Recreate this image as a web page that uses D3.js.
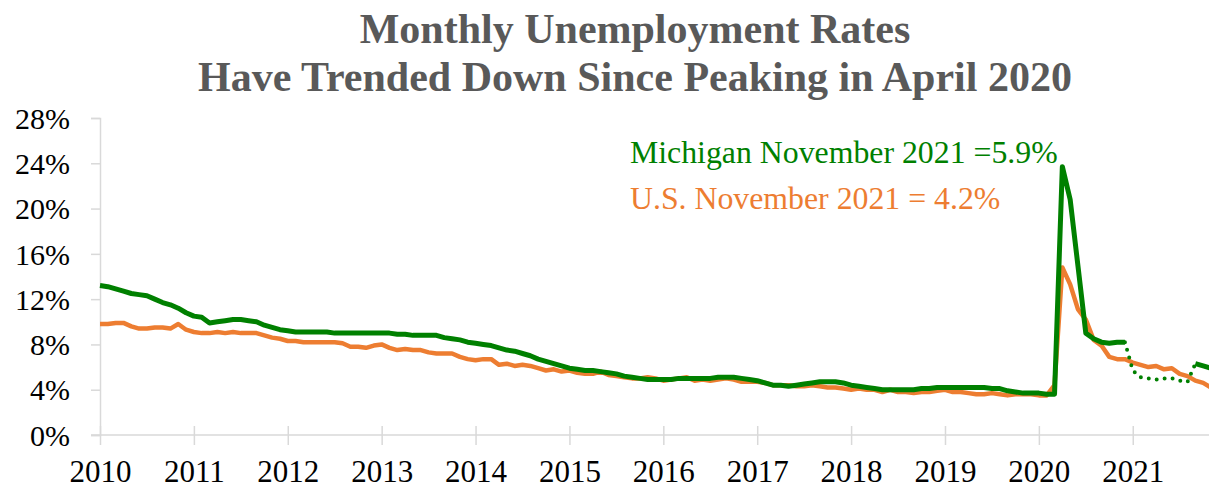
<!DOCTYPE html>
<html>
<head>
<meta charset="utf-8">
<script src="https://cdn.jsdelivr.net/npm/d3@7"></script>
<style>
  body { margin: 0; background: #fff; }
  svg { display: block; }
</style>
</head>
<body>
<div id="chart"></div>
<script>
// Monthly unemployment rate (%), Jan 2010 .. Nov 2021
const years = [2010, 2011, 2012, 2013, 2014, 2015, 2016, 2017, 2018, 2019, 2020, 2021]

const usRate = [
  9.8, 9.8, 9.9, 9.9, 9.6, 9.4, 9.4, 9.5, 9.5, 9.4, 9.8, 9.3,
  9.1, 9.0, 9.0, 9.1, 9.0, 9.1, 9.0, 9.0, 9.0, 8.8, 8.6, 8.5,
  8.3, 8.3, 8.2, 8.2, 8.2, 8.2, 8.2, 8.1, 7.8, 7.8, 7.7, 7.9,
  8.0, 7.7, 7.5, 7.6, 7.5, 7.5, 7.3, 7.2, 7.2, 7.2, 6.9, 6.7,
  6.6, 6.7, 6.7, 6.2, 6.3, 6.1, 6.2, 6.1, 5.9, 5.7, 5.8, 5.6,
  5.7, 5.5, 5.4, 5.4, 5.6, 5.3, 5.2, 5.1, 5.0, 5.0, 5.1, 5.0,
  4.8, 4.9, 5.0, 5.1, 4.8, 4.9, 4.8, 4.9, 5.0, 4.9, 4.7, 4.7,
  4.7, 4.6, 4.4, 4.4, 4.4, 4.3, 4.3, 4.4, 4.3, 4.2, 4.2, 4.1,
  4.0, 4.1, 4.0, 4.0, 3.8, 4.0, 3.8, 3.8, 3.7, 3.8, 3.8, 3.9,
  4.0, 3.8, 3.8, 3.7, 3.6, 3.6, 3.7, 3.6, 3.5, 3.6, 3.6, 3.6,
  3.5, 3.5, 4.4, 14.8, 13.3, 11.1, 10.2, 8.4, 7.9, 6.9, 6.7, 6.7,
  6.4, 6.2, 6.0, 6.1, 5.8, 5.9, 5.4, 5.2, 4.8, 4.6, 4.2
]

const miRate = [
  13.2, 13.1, 12.9, 12.7, 12.5, 12.4, 12.3, 12.0, 11.7, 11.5, 11.2, 10.8,
  10.5, 10.4, 9.9, 10.0, 10.1, 10.2, 10.2, 10.1, 10.0, 9.7, 9.5, 9.3,
  9.2, 9.1, 9.1, 9.1, 9.1, 9.1, 9.0, 9.0, 9.0, 9.0, 9.0, 9.0,
  9.0, 9.0, 8.9, 8.9, 8.8, 8.8, 8.8, 8.8, 8.6, 8.5, 8.4, 8.2,
  8.1, 8.0, 7.9, 7.7, 7.5, 7.4, 7.2, 7.0, 6.7, 6.5, 6.3, 6.1,
  5.9, 5.8, 5.7, 5.7, 5.6, 5.5, 5.4, 5.2, 5.1, 5.0, 4.9, 4.9,
  4.9, 4.9, 5.0, 5.0, 5.0, 5.0, 5.0, 5.1, 5.1, 5.1, 5.0, 4.9,
  4.8, 4.6, 4.4, 4.4, 4.3, 4.4, 4.5, 4.6, 4.7, 4.7, 4.7, 4.6,
  4.4, 4.3, 4.2, 4.1, 4.0, 4.0, 4.0, 4.0, 4.0, 4.1, 4.1, 4.2,
  4.2, 4.2, 4.2, 4.2, 4.2, 4.2, 4.1, 4.1, 3.9, 3.8, 3.7, 3.7,
  3.7, 3.6, 3.6, 23.7, 20.8, 14.9, 9.0, 8.5, 8.2, 8.1, 8.2, 8.2,
  5.7, 5.1, 5.0, 4.9, 5.0, 5.0, 4.8, 4.7, 6.3, 6.1, 5.9
]

const yTicks = [0, 4, 8, 12, 16, 20, 24, 28]

const titleLines = [
  "Monthly Unemployment Rates",
  "Have Trended Down Since Peaking in April 2020"
]
const miLabel = "Michigan November 2021 =5.9%"
const usLabel = "U.S. November 2021 = 4.2%"

// months of the Michigan series drawn dotted (Dec 2020 .. Sep 2021)
const miDotFrom = 131
const miDotTo = 140

function drawChart() {
  const width = 1209
  const height = 489
  const serif = "'Liberation Serif', 'Times New Roman', serif"
  const green = "#008000"
  const orange = "#ED7D31"
  const axisColor = "#d9d9d9"

  const svg = d3.select("#chart")
    .append("svg")
      .attr("width", width)
      .attr("height", height)

  // Scales
  const xScale = d3.scaleLinear()
    .domain([0, usRate.length - 1])
    .range([100, 1211])

  const yScale = d3.scaleLinear()
    .domain([0, 28])
    .range([435, 118])

  // Title
  svg.append("text")
    .attr("x", 635)
    .attr("text-anchor", "middle")
    .attr("fill", "#595959")
    .style("font-family", serif)
    .style("font-weight", "bold")
    .style("font-size", "42px")
    .selectAll("tspan")
    .data(titleLines)
    .enter()
    .append("tspan")
      .attr("x", 635)
      .attr("y", (d, i) => 43 + i * 48)
      .text(d => d)

  // Y axis
  const yAxis = svg.append("g")
    .attr("transform", "translate(100,0)")
    .call(d3.axisLeft(yScale)
      .tickValues(yTicks)
      .tickSize(9)
      .tickPadding(30)
      .tickFormat(d => d + "%"))
  yAxis.select(".domain").attr("stroke", axisColor).attr("stroke-width", 1.5)
  yAxis.selectAll(".tick line").attr("stroke", axisColor).attr("stroke-width", 1.5)
  yAxis.selectAll(".tick text")
    .attr("x", -30)
    .attr("dy", "0.34em")
    .attr("fill", "#000")
    .style("font-family", serif)
    .style("font-size", "30px")

  // X axis
  const xAxis = svg.append("g")
    .attr("transform", "translate(0,435)")
    .call(d3.axisBottom(xScale)
      .tickValues(years.map((y, i) => i * 12))
      .tickSize(10)
      .tickSizeOuter(0)
      .tickFormat((d, i) => years[i]))
  xAxis.select(".domain")
    .attr("d", `M91,0H${width}`)
    .attr("stroke", axisColor)
    .attr("stroke-width", 1.5)
  xAxis.selectAll(".tick line")
    .attr("y1", -9)
    .attr("y2", 10)
    .attr("stroke", axisColor)
    .attr("stroke-width", 1.5)
  xAxis.selectAll(".tick text")
    .attr("y", 47)
    .attr("dy", 0)
    .attr("fill", "#000")
    .style("font-family", serif)
    .style("font-size", "31px")

  // Lines
  const line = d3.line()
    .x(d => xScale(d.i))
    .y(d => yScale(d.v))

  const usPoints = usRate.map((v, i) => ({ i, v }))
  const miPoints = miRate.map((v, i) => ({ i, v }))

  svg.append("path")
    .datum(usPoints)
    .attr("d", line)
    .attr("fill", "none")
    .attr("stroke", orange)
    .attr("stroke-width", 4.5)
    .attr("stroke-linejoin", "round")

  const miSegments = [
    { pts: miPoints.filter(d => d.i <= miDotFrom), dotted: false },
    { pts: miPoints.filter(d => d.i >= miDotFrom && d.i <= miDotTo), dotted: true },
    { pts: miPoints.filter(d => d.i >= miDotTo), dotted: false },
  ]

  svg.selectAll(".mi")
    .data(miSegments)
    .enter()
    .append("path")
      .attr("class", "mi")
      .attr("d", d => line(d.pts))
      .attr("fill", "none")
      .attr("stroke", green)
      .attr("stroke-width", d => d.dotted ? 4 : 5)
      .attr("stroke-linejoin", "round")
      .attr("stroke-linecap", d => d.dotted ? "round" : "butt")
      .attr("stroke-dasharray", d => d.dotted ? "0 8" : null)

  // Annotations
  svg.append("text")
    .attr("x", 630)
    .attr("y", 163)
    .attr("fill", green)
    .style("font-family", serif)
    .style("font-size", "31.8px")
    .text(miLabel)

  svg.append("text")
    .attr("x", 630)
    .attr("y", 209)
    .attr("fill", orange)
    .style("font-family", serif)
    .style("font-size", "31.8px")
    .text(usLabel)
}

drawChart()
</script>
</body>
</html>
